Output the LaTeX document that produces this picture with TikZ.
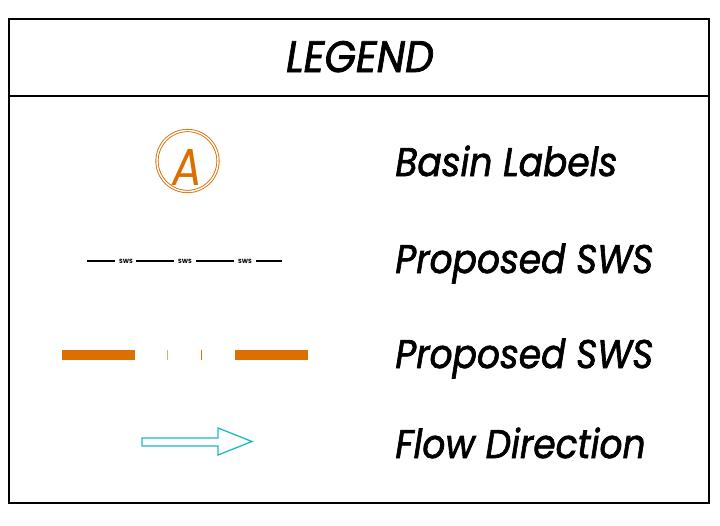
\documentclass[tikz,border=0pt]{standalone}
\usepackage{fontspec}
\setmainfont{Poppins}[ItalicFeatures={FakeBold=1.8}]
\newfontfamily\basinfont{Poppins}
\usepackage{tikz}
\usetikzlibrary{positioning}

\definecolor{basinorange}{HTML}{DD6E00}
\definecolor{flowcyan}{HTML}{1ABCBC}

\begin{document}
\begin{tikzpicture}[x=1pt, y=-1pt, thick]
        \tikzstyle{label} = [anchor=base west, inner sep=0pt, xscale=0.9, font=\fontsize{40}{40}\selectfont\itshape]
        \tikzstyle{sws} = [inner sep=0pt, font=\fontsize{6}{6}\selectfont\bfseries]
        \tikzstyle{swsline} = [draw, line width=1.1pt]
        \tikzstyle{orangebar} = [draw=basinorange, line width=10pt]
        \useasboundingbox (0,0) rectangle (720,525);

        % frame
        \draw [line width=1.6pt] (9,19) rectangle (709,503);
        \draw [line width=1.6pt] (9,96) -- (709,96);
        \node [anchor=base, inner sep=0pt, font=\fontsize{44}{44}\selectfont\itshape, xscale=0.92] (title) at (360,72) {LEGEND};

        % basin label symbol
        \node [circle, draw=basinorange, double=white, double distance=1.4pt, line width=0.9pt, minimum size=61pt, inner sep=0pt] (basin) at (187.5,161) {};
        \node [anchor=base, inner sep=0pt, text=basinorange, xscale=0.85, font=\basinfont\fontsize{52}{52}\selectfont\itshape] (basinA) at (187.5,185) {A};
        \node [label] (basintext) at (395,176) {Basin Labels};

        % proposed SWS (line)
        \coordinate (s0) at (87,261);
        \node [sws] (sws1) at (126,261) {SWS};
        \node [sws] (sws2) at (185,261) {SWS};
        \node [sws] (sws3) at (245,261) {SWS};
        \coordinate (s4) at (282,261);
        \path [swsline] (s0) -- ([xshift=-4pt]sws1.west);
        \path [swsline] ([xshift=3pt]sws1.east) -- ([xshift=-4pt]sws2.west);
        \path [swsline] ([xshift=4pt]sws2.east) -- ([xshift=-4pt]sws3.west);
        \path [swsline] ([xshift=4pt]sws3.east) -- (s4);
        \node [label] (swstext1) at (395,273) {Proposed SWS};

        % proposed SWS (bar)
        \draw [orangebar] (62,355) -- (135,355);
        \draw [draw=basinorange!60, line width=0.8pt] (167,350) -- (167,360);
        \draw [draw=basinorange, line width=0.8pt] (201,350) -- (201,360);
        \draw [orangebar] (235,355) -- (308,355);
        \node [label] (swstext2) at (395,368) {Proposed SWS};

        % flow direction
        \draw [flowcyan, line width=1.3pt, line join=miter]
            (142,438) -- (218,438) -- (218,428) -- (252,441.5) -- (218,455) -- (218,446) -- (142,446) -- cycle;
        \node [label] (flowtext) at (395,458) {Flow Direction};
    \end{tikzpicture}
\end{document}
